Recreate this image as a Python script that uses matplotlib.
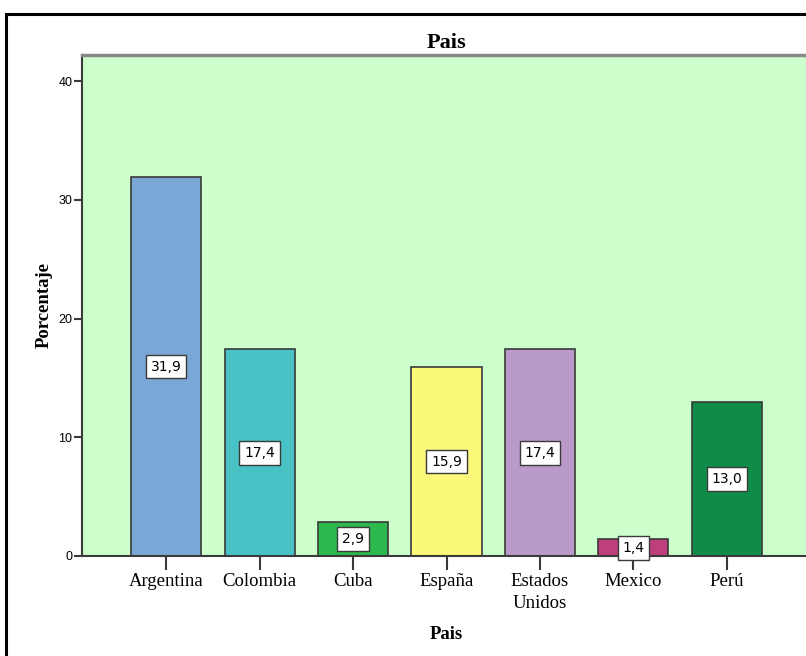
import matplotlib.pyplot as plt
from matplotlib.patches import Rectangle

paises = ['Argentina', 'Colombia', 'Cuba', 'España', 'Estados\nUnidos', 'Mexico', 'Perú']
porcentaje = [31.9, 17.4, 2.9, 15.9, 17.4, 1.4, 13.0]
etiquetas = ['31,9', '17,4', '2,9', '15,9', '17,4', '1,4', '13,0']
colores = ['#7ba7d6', '#48c2c5', '#2db94d', '#fbf87a', '#b99aca', '#be3f7b', '#0f8d48']
yticks = [0, 10, 20, 30, 40]

W, H = 806, 656
fig = plt.figure(figsize=(W / 100, H / 100), dpi=100)

# outer chart frame (cut off at right and bottom)
fig.patches.append(Rectangle((6 / W, -0.1), 1.2, (H - 14) / H + 0.1, transform=fig.transFigure,
                             fill=False, edgecolor='black', linewidth=2.2))

left, right, top, bottom = 82, 811, 55, 556
ax = fig.add_axes([left / W, (H - bottom) / H, (right - left) / W, (bottom - top) / H])
ax.set_facecolor('#ccffcc')

x = list(range(len(paises)))
ax.bar(x, porcentaje, width=0.75, color=colores, edgecolor='#3a3a3a', linewidth=1.2, zorder=2)

for xi, v, t in zip(x, porcentaje, etiquetas):
    ax.text(xi, v / 2, t, ha='center', va='center', fontsize=10, family='DejaVu Sans',
            bbox=dict(boxstyle='square,pad=0.35', facecolor='white', edgecolor='#3a3a3a', linewidth=1),
            zorder=4, clip_on=False)

ax.set_xlim(-0.9, 6.9)
ax.set_ylim(0, (bottom - top) / ((bottom - 81) / 40))
ax.set_yticks(yticks)
ax.set_yticklabels([str(t) for t in yticks], family='Liberation Sans', fontsize=9)
ax.set_xticks(x)
ax.set_xticklabels(paises, family='Liberation Serif', fontsize=13.5, linespacing=1.4)

ax.tick_params(axis='y', direction='out', length=6, width=1.5, color='#3a3a3a', pad=1)
ax.tick_params(axis='x', direction='out', length=10, width=1.5, color='#3a3a3a', pad=2)

for side in ['left', 'bottom']:
    ax.spines[side].set_color('#3a3a3a')
    ax.spines[side].set_linewidth(1.5)
ax.spines['top'].set_color('#888888')
ax.spines['top'].set_linewidth(2.5)
ax.spines['right'].set_visible(False)

ax.set_title('Pais', family='Liberation Serif', fontweight='bold', fontsize=16, pad=5)
ax.set_ylabel('Porcentaje', family='Liberation Serif', fontweight='bold', fontsize=13.5, labelpad=4)
ax.set_xlabel('Pais', family='Liberation Serif', fontweight='bold', fontsize=13.5, labelpad=10)

fig.savefig('out.png', dpi=100)
